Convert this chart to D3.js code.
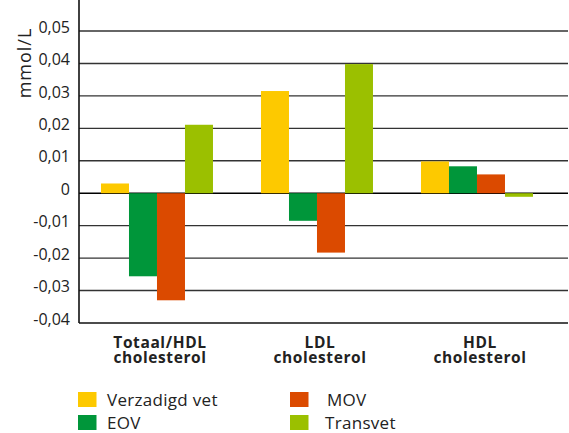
<!DOCTYPE html>
<meta charset="utf-8">
<style>
  body {
    margin: 0;
    background: #fff;
  }

  text {
    font-family: "Open Sans", sans-serif;
    fill: #222;
  }

  .grid line {
    stroke: #333;
    stroke-width: 1.4;
  }
</style>

<body>
  <svg width="569" height="433"></svg>
</body>
<script src="https://d3js.org/d3.v7.min.js"></script>
<script>
  // data
  var categories = ["Totaal/HDL|cholesterol", "LDL|cholesterol", "HDL|cholesterol"];
  var seriesNames = ["Verzadigd vet", "EOV", "MOV", "Transvet"];
  var seriesColors = ["#fdc900", "#00963a", "#db4a00", "#9bc000"];
  var verzadigdVet = [0.003, 0.0315, 0.0098];
  var eov = [-0.0256, -0.0085, 0.0083];
  var mov = [-0.033, -0.0183, 0.0058];
  var transvet = [0.0211, 0.0398, -0.0011];
  var yTicks = [0.05, 0.04, 0.03, 0.02, 0.01, 0, -0.01, -0.02, -0.03, -0.04];

  var series = [verzadigdVet, eov, mov, transvet];

  var svg = d3.select("svg"),
    left = 79,
    right = 568,
    top = 13;

  var y = d3.scaleLinear().domain([-0.04, 0.05]).range([323, 31]);

  var x0 = d3.scaleBand().domain(categories).range([left, 559])
    .paddingInner(0.3).paddingOuter(0.15).align(0.458);
  var x1 = d3.scaleBand().domain(d3.range(seriesNames.length)).range([0, x0.bandwidth()]);

  // gridlines
  svg.append("g")
    .attr("class", "grid")
    .selectAll("line")
    .data(yTicks.filter(function (d) { return d > -0.04; }))
    .enter().append("line")
    .attr("x1", left)
    .attr("x2", right)
    .attr("y1", function (d) { return y(d); })
    .attr("y2", function (d) { return y(d); })
    .style("stroke", function (d) { return d == 0 ? "#000" : null; })
    .style("stroke-width", function (d) { return d == 0 ? 1.6 : null; });

  // bars
  var groups = svg.append("g").selectAll("g")
    .data(categories)
    .enter().append("g")
    .attr("transform", function (d) { return "translate(" + x0(d) + ",0)"; });

  groups.selectAll("rect")
    .data(function (d, i) {
      return series.map(function (s, k) { return { k: k, v: s[i] }; });
    })
    .enter().append("rect")
    .attr("x", function (d) { return x1(d.k); })
    .attr("width", x1.bandwidth())
    .attr("y", function (d) { return y(Math.max(0, d.v)); })
    .attr("height", function (d) { return Math.abs(y(d.v) - y(0)); })
    .attr("fill", function (d) { return seriesColors[d.k]; });

  // y axis
  var yAxis = svg.append("g")
    .attr("transform", "translate(" + left + ",0)")
    .call(d3.axisLeft(y).tickValues(yTicks).tickSize(0).tickPadding(9)
      .tickFormat(function (d) { return d == 0 ? "0" : d3.format(".2f")(d).replace(".", ",").replace("−", "-"); }));
  yAxis.select(".domain").remove();
  yAxis.selectAll("text")
    .attr("dy", "0.07em")
    .style("font-size", "16px")
    .style("font-family", "'Open Sans', sans-serif")
    .style("fill", "#222");

  // axis frame
  svg.append("line")
    .attr("x1", left).attr("x2", left)
    .attr("y1", top).attr("y2", y(-0.04))
    .attr("stroke", "#111").attr("stroke-width", 1.6);
  svg.append("line")
    .attr("x1", left).attr("x2", right)
    .attr("y1", y(-0.04)).attr("y2", y(-0.04))
    .attr("stroke", "#111").attr("stroke-width", 1.6);

  svg.append("text")
    .attr("transform", "translate(31,63) rotate(-90)")
    .attr("text-anchor", "middle")
    .style("font-size", "18px")
    .style("letter-spacing", "1px")
    .text("mmol/L");

  // category labels
  var labels = svg.append("g").selectAll("text")
    .data(categories)
    .enter().append("text")
    .attr("x", function (d) { return x0(d) + x0.bandwidth() / 2 + 3; })
    .attr("y", 348)
    .attr("text-anchor", "middle")
    .style("font-size", "15.5px")
    .style("letter-spacing", "0.6px")
    .style("font-weight", "bold");
  labels.selectAll("tspan")
    .data(function (d) { return d.split("|"); })
    .enter().append("tspan")
    .attr("x", function () { return d3.select(this.parentNode).attr("x"); })
    .attr("dy", function (d, i) { return i == 0 ? 0 : 14.5; })
    .text(function (d) { return d; });

  // legend
  var legendPos = [[78, 392, 107], [78, 415, 107], [290, 392, 327], [290, 415, 325]];
  var legend = svg.append("g").selectAll("g")
    .data(seriesNames)
    .enter().append("g");
  legend.append("rect")
    .attr("x", function (d, i) { return legendPos[i][0]; })
    .attr("y", function (d, i) { return legendPos[i][1]; })
    .attr("width", 18.5)
    .attr("height", 15)
    .attr("fill", function (d, i) { return seriesColors[i]; });
  legend.append("text")
    .attr("x", function (d, i) { return legendPos[i][2]; })
    .attr("y", function (d, i) { return legendPos[i][1] + 14; })
    .style("font-size", "17px")
    .style("letter-spacing", "0.3px")
    .text(function (d) { return d; });
</script>
